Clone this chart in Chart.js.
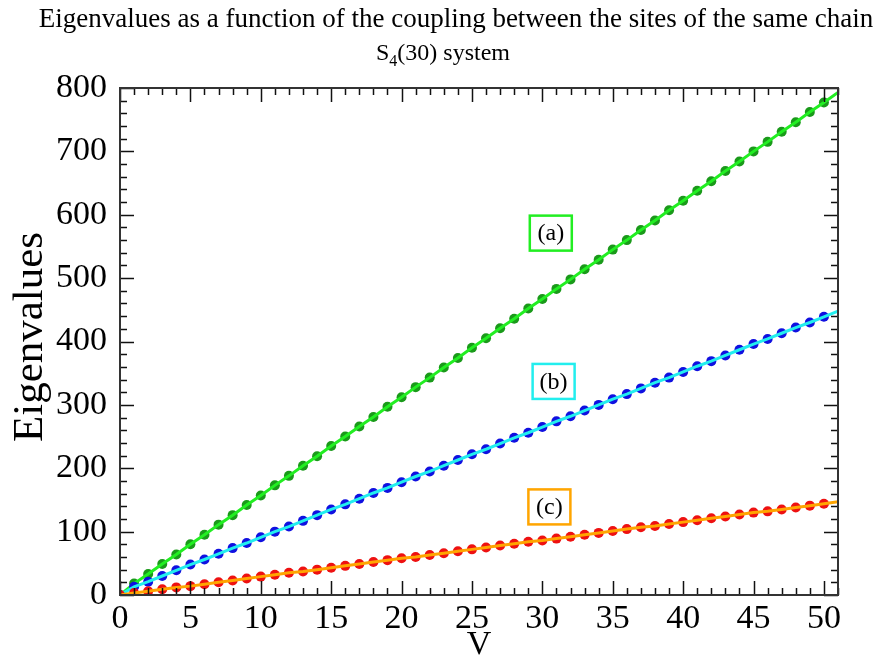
<!DOCTYPE html>
<html>
<head>
<meta charset="utf-8">
<script src="https://cdn.jsdelivr.net/npm/chart.js@4.4.1/dist/chart.umd.min.js"></script>
<style>
  html, body { margin: 0; padding: 0; background: #fff; }
  #wrap { width: 887px; height: 660px; position: relative; }
</style>
</head>
<body>
<div id="wrap"><canvas id="c" width="887" height="660"></canvas></div>
<script>
// Coupling V between sites of the same chain
const couplings = [0,1,2,3,4,5,6,7,8,9,10,11,12,13,14,15,16,17,18,19,20,21,22,23,24,25,
  26,27,28,29,30,31,32,33,34,35,36,37,38,39,40,41,42,43,44,45,46,47,48,49,50,51];

// Eigenvalue branches (a), (b), (c)
const branchA = [0,18,33,49,64,80,95,111,126,142,157,173,188,204,219,235,250,266,281,297,
  312,328,343,359,374,390,405,421,436,452,467,483,498,514,529,545,560,576,591,607,
  622,638,653,669,684,700,715,731,746,762,777,793];
const branchB = [0,13,21,30,39,48,56,65,74,82,91,100,108,117,126,135,143,152,161,169,
  178,187,195,204,213,222,230,239,248,256,265,274,282,291,300,309,317,326,335,343,
  352,361,369,378,387,396,404,413,422,430,439,448];
const branchC = [0,3,6,9,12,14,17,20,23,26,29,32,35,37,40,43,46,49,52,55,
  58,60,63,66,69,72,75,78,81,84,86,89,92,95,98,101,104,107,109,112,
  115,118,121,124,127,130,132,135,138,141,144,147];

// Sampled points stop at V = 50; the curves run to the frame edge
const lastSample = 50;

const xTicks = [0,5,10,15,20,25,30,35,40,45,50];
const yTicks = [0,100,200,300,400,500,600,700,800];

const branchLabels = ['(a)', '(b)', '(c)'];
const labelAnchorV = [30.6, 30.8, 30.5];
const labelAnchorE = [571, 337, 139];

const serif = '"Liberation Serif", "Times New Roman", serif';

function pts(vals, n) {
  return couplings.slice(0, n).map((v, i) => ({ x: v, y: vals[i] }));
}

const lineColors = ['#22ee22', '#22eeee', '#ffa500'];
const markColors = ['#1a9a1a', '#1010e0', '#ee1111'];
const branches = [branchA, branchB, branchC];

// each branch: symbols first, then its curve on top; later branches above earlier ones
const datasets = [];
branches.forEach((b, k) => {
  datasets.push({
    data: pts(b, lastSample + 1),
    showLine: false,
    pointRadius: 5,
    pointBackgroundColor: markColors[k],
    pointBorderColor: markColors[k],
    pointBorderWidth: 0,
    order: 6 - 2 * k
  });
  datasets.push({
    data: pts(b, couplings.length),
    borderColor: lineColors[k],
    borderWidth: 3,
    pointRadius: 0,
    fill: false,
    tension: 0,
    order: 5 - 2 * k
  });
});

// Frame, inward ticks, titles and branch labels
const decor = {
  id: 'decor',
  afterDraw(chart) {
    const ctx = chart.ctx;
    const a = chart.chartArea;
    const xs = chart.scales.x, ys = chart.scales.y;
    ctx.save();

    // inward tick marks on all four sides
    ctx.strokeStyle = '#111';
    ctx.lineWidth = 1.5;
    const major = 14, minor = 7;
    for (let v = 0; v <= 51; v += 1) {
      const px = Math.round(xs.getPixelForValue(v)) + 0.5;
      const len = (v % 5 === 0) ? major : minor;
      ctx.beginPath();
      ctx.moveTo(px, a.bottom); ctx.lineTo(px, a.bottom - len);
      ctx.moveTo(px, a.top); ctx.lineTo(px, a.top + len);
      ctx.stroke();
    }
    for (let v = 0; v <= 800; v += 20) {
      const py = Math.round(ys.getPixelForValue(v)) + 0.5;
      const len = (v % 100 === 0) ? major : minor;
      ctx.beginPath();
      ctx.moveTo(a.left, py); ctx.lineTo(a.left + len, py);
      ctx.moveTo(a.right, py); ctx.lineTo(a.right - len, py);
      ctx.stroke();
    }

    // frame
    ctx.strokeStyle = '#333';
    ctx.lineWidth = 2;
    ctx.strokeRect(a.left, a.top, a.right - a.left, a.bottom - a.top);

    // title
    ctx.fillStyle = '#000';
    ctx.textAlign = 'center';
    ctx.textBaseline = 'alphabetic';
    ctx.font = '27px ' + serif;
    ctx.fillText('Eigenvalues as a function of the coupling between the sites of the same chain', 456, 27, 845);

    // subtitle with subscript
    const big = '24px ' + serif, small = '16px ' + serif;
    const p1 = 'S', p3 = '(30) system';
    ctx.font = big;
    const w1 = ctx.measureText(p1).width, w3 = ctx.measureText(p3).width;
    ctx.font = small;
    const w2 = ctx.measureText('4').width;
    const sx = 443 - (w1 + w2 + w3) / 2;
    ctx.textAlign = 'left';
    ctx.font = big;
    ctx.fillText(p1, sx, 60);
    ctx.font = small;
    ctx.fillText('4', sx + w1, 66);
    ctx.font = big;
    ctx.fillText(p3, sx + w1 + w2, 60);

    // axis titles
    ctx.textAlign = 'center';
    ctx.font = '34px ' + serif;
    ctx.fillText('V', (a.left + a.right) / 2, 654);
    ctx.save();
    ctx.translate(42, 337);
    ctx.rotate(-Math.PI / 2);
    ctx.font = '43px ' + serif;
    ctx.fillText('Eigenvalues', 0, 0);
    ctx.restore();

    // branch labels in boxes
    ctx.font = '24px ' + serif;
    ctx.textBaseline = 'middle';
    branchLabels.forEach((t, k) => {
      const cx = xs.getPixelForValue(labelAnchorV[k]);
      const cy = ys.getPixelForValue(labelAnchorE[k]);
      const w = 42, h = 35;
      ctx.strokeStyle = lineColors[k];
      ctx.lineWidth = 2.5;
      ctx.strokeRect(cx - w / 2, cy - h / 2, w, h);
      ctx.fillStyle = '#000';
      ctx.fillText(t, cx, cy + 1);
    });
    ctx.restore();
  }
};

new Chart(document.getElementById('c'), {
  type: 'line',
  data: { datasets },
  options: {
    responsive: false,
    animation: false,
    layout: { padding: { top: 88, right: 49, left: 0, bottom: 0 } },
    plugins: { legend: { display: false }, tooltip: { enabled: false } },
    scales: {
      x: {
        type: 'linear',
        min: 0, max: 51,
        afterBuildTicks(s) { s.ticks = xTicks.map(v => ({ value: v })); },
        afterFit(s) { s.height = 65; },
        grid: { display: false, drawTicks: false },
        border: { display: false },
        ticks: { color: '#000', padding: 4, maxRotation: 0, autoSkip: false,
                 font: { family: serif, size: 34 } }
      },
      y: {
        type: 'linear',
        min: 0, max: 800,
        afterBuildTicks(s) { s.ticks = yTicks.map(v => ({ value: v })); },
        afterFit(s) { s.width = 120; },
        grid: { display: false, drawTicks: false },
        border: { display: false },
        ticks: { color: '#000', padding: 13, autoSkip: false,
                 font: { family: serif, size: 34 } }
      }
    }
  },
  plugins: [decor]
});
</script>
</body>
</html>
